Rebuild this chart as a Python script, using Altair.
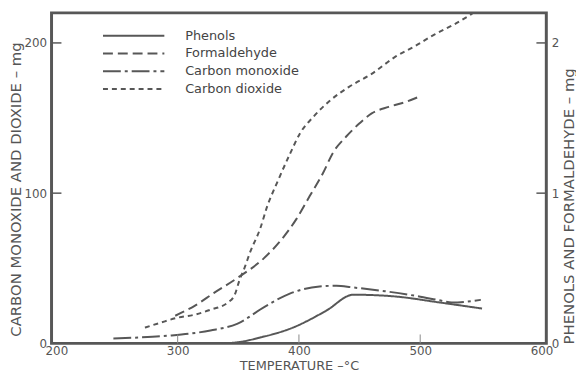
import altair as alt
import pandas as pd

# ---- data ------------------------------------------------------------
series_order = ["Phenols", "Formaldehyde", "Carbon monoxide", "Carbon dioxide"]
dash_styles = [[1, 0], [10, 5], [18, 4, 3, 4], [5, 4]]

# left axis (mg): carbon monoxide and carbon dioxide
co_temp = [247, 270, 295, 327, 349, 372, 392, 417, 431, 444, 471, 498, 517, 526, 550]
co_mg = [3.3, 4.0, 5.3, 8.6, 13.0, 24.5, 33.0, 37.9, 38.4, 37.3, 34.7, 31.4, 28.5, 27.2, 29.0]

co2_temp = [273, 286, 300, 314, 327, 341, 347, 351, 355, 360, 368, 374, 382, 393, 401, 412,
            425, 441, 460, 479, 496, 512, 528, 543]
co2_mg = [10.5, 13.8, 17.1, 19.1, 22.4, 27.0, 32.2, 42.1, 50.0, 61.2, 76.3, 91.6, 107.0,
          126.8, 140.0, 150.9, 161.2, 170.6, 179.4, 190.5, 198.0, 205.7, 212.3, 219.5]

# right axis (mg): phenols and formaldehyde
ph_temp = [335, 349, 368, 395, 422, 445, 477, 518, 551]
ph_mg = [0.0, 0.007, 0.039, 0.105, 0.215, 0.324, 0.314, 0.27, 0.232]

fo_temp = [298, 314, 330, 349, 371, 386, 398, 409, 420, 428, 439, 450, 460, 474, 488, 500]
fo_mg = [0.184, 0.25, 0.336, 0.434, 0.566, 0.695, 0.829, 0.982, 1.136, 1.268, 1.377, 1.465,
         1.531, 1.574, 1.607, 1.645]

x_ticks = [200, 300, 400, 500, 600]
left_ticks = [0, 100, 200]
right_ticks = [0, 1, 2]
x_inner_ticks = [300, 400, 500]
left_inner_ticks = [100, 200]
right_inner_ticks = [1, 2]

# ---- build tables --------------------------------------------------------
df_left = pd.DataFrame({
    "temp": co_temp + co2_temp,
    "amount": co_mg + co2_mg,
    "series": ["Carbon monoxide"] * len(co_temp) + ["Carbon dioxide"] * len(co2_temp),
})
df_right = pd.DataFrame({
    "temp": ph_temp + fo_temp,
    "amount": ph_mg + fo_mg,
    "series": ["Phenols"] * len(ph_temp) + ["Formaldehyde"] * len(fo_temp),
})

W, H = 500, 334
ink = "#575757"
font = "DejaVu Sans"

x_scale = alt.Scale(domain=[196, 604], nice=False, zero=False)
x_axis = alt.Axis(values=x_ticks, format="d", title="TEMPERATURE –°C",
                  labelPadding=2, titlePadding=3, titleFontSize=13)
left_scale = alt.Scale(domain=[0, 220], nice=False)
right_scale = alt.Scale(domain=[0, 2.2], nice=False)
left_axis = alt.Axis(orient="left", values=left_ticks, format="d",
                     title="CARBON MONOXIDE AND DIOXIDE – mg", titleFontSize=15,
                     labelPadding=5, titleX=-36, titleY=178,
                     titleBaseline="middle", titleAlign="center", titleAngle=270)
right_axis = alt.Axis(orient="right", values=right_ticks, format="d",
                      title="PHENOLS AND FORMALDEHYDE – mg", titleFontSize=15,
                      labelPadding=5, titleX=22, titleY=195,
                      titleBaseline="middle", titleAlign="center", titleAngle=270)

dash_scale = alt.Scale(domain=series_order, range=dash_styles)
legend = alt.Legend(
    title=None, orient="none", legendX=75.5, legendY=15.5,
    symbolType="M-4.77,0L4.77,0", symbolSize=169, symbolStrokeWidth=2,
    symbolStrokeColor=ink, symbolFillColor="transparent",
    labelOffset=44.5, labelFont=font, labelFontSize=13, labelColor="#444444",
    rowPadding=3, padding=0,
)
dash_enc = alt.StrokeDash("series:N", scale=dash_scale, sort=series_order, legend=legend)

left_lines = alt.Chart(df_left).mark_line(
    color=ink, strokeWidth=2, interpolate="monotone", clip=True
).encode(
    x=alt.X("temp:Q", scale=x_scale, axis=x_axis),
    y=alt.Y("amount:Q", scale=left_scale, axis=left_axis),
    strokeDash=dash_enc,
)

left_tick_rules = alt.Chart(pd.DataFrame({"amount": left_inner_ticks})).mark_rule(
    color=ink, strokeWidth=1.5
).encode(y=alt.Y("amount:Q", scale=left_scale, axis=left_axis),
         x=alt.value(0), x2=alt.value(10))

bottom_tick_rules = alt.Chart(pd.DataFrame({"temp": x_inner_ticks})).mark_rule(
    color="#8a8a8a", strokeWidth=1
).encode(x=alt.X("temp:Q", scale=x_scale, axis=x_axis),
         y=alt.value(H - 9), y2=alt.value(H))

right_lines = alt.Chart(df_right).mark_line(
    color=ink, strokeWidth=2, interpolate="monotone", clip=True
).encode(
    x=alt.X("temp:Q", scale=x_scale, axis=x_axis),
    y=alt.Y("amount:Q", scale=right_scale, axis=right_axis),
    strokeDash=dash_enc,
)

right_tick_rules = alt.Chart(pd.DataFrame({"amount": right_inner_ticks})).mark_rule(
    color=ink, strokeWidth=1.5
).encode(y=alt.Y("amount:Q", scale=right_scale, axis=right_axis),
         x=alt.value(W - 10), x2=alt.value(W))

left_group = alt.layer(left_lines, left_tick_rules, bottom_tick_rules)
right_group = alt.layer(right_lines, right_tick_rules)

chart = alt.layer(left_group, right_group).resolve_scale(
    y="independent"
).properties(
    width=W, height=H,
    padding={"top": 3, "left": 0, "right": 0, "bottom": 0},
    background="white",
).configure_view(
    stroke=ink, strokeWidth=3
).configure_axis(
    domain=False, ticks=False, grid=False,
    labelFont=font, labelFontSize=12, labelColor="#555555",
    titleFont=font, titleFontWeight="normal", titleColor="#555555",
)

chart.save("out.html", embed_options={"renderer": "svg", "actions": False})
